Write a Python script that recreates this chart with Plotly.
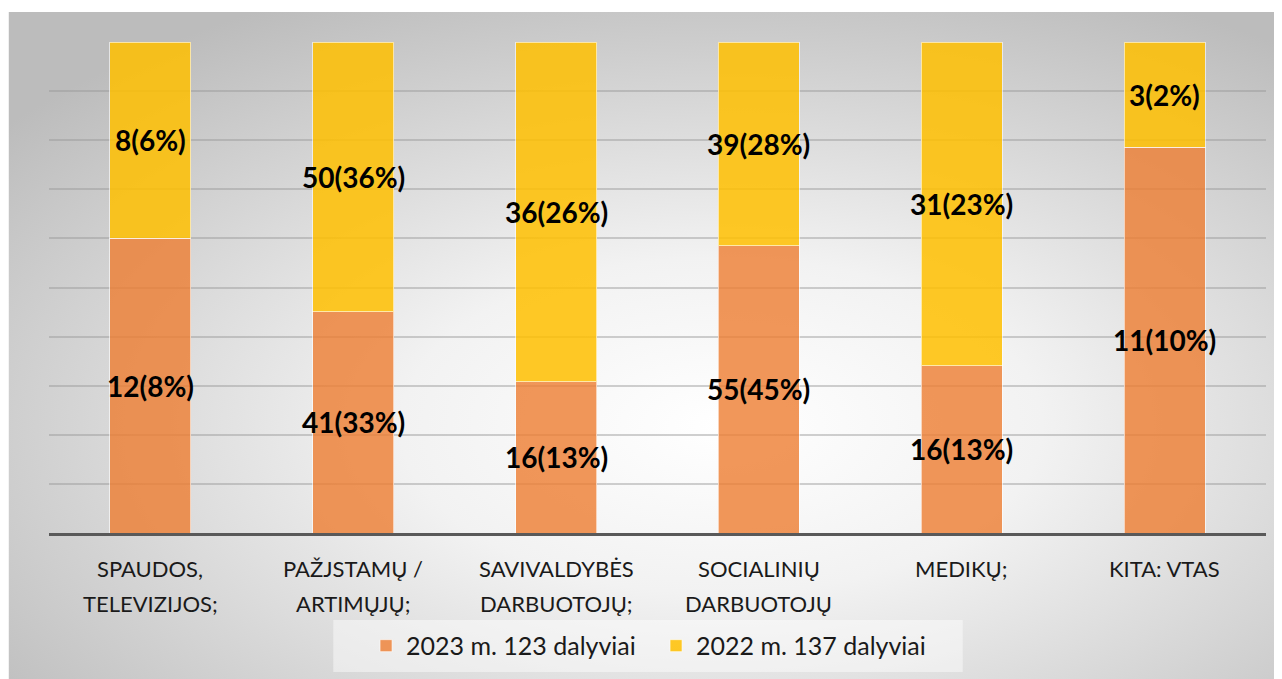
import base64
import plotly.graph_objects as go

categories = ["SPAUDOS, TELEVIZIJOS;", "PAŽJSTAMŲ / ARTIMŲJŲ;", "SAVIVALDYBĖS DARBUOTOJŲ;",
              "SOCIALINIŲ DARBUOTOJŲ", "MEDIKŲ;", "KITA: VTAS"]
cat_lines = [["SPAUDOS,", "TELEVIZIJOS;"], ["PAŽJSTAMŲ /", "ARTIMŲJŲ;"], ["SAVIVALDYBĖS", "DARBUOTOJŲ;"],
             ["SOCIALINIŲ", "DARBUOTOJŲ"], ["MEDIKŲ;"], ["KITA: VTAS"]]
counts_2023 = [12, 41, 16, 55, 16, 11]
pct_2023 = [8, 33, 13, 45, 13, 10]
counts_2022 = [8, 50, 36, 39, 31, 3]
pct_2022 = [6, 36, 26, 28, 23, 2]
series_names = ["2023 m. 123 dalyviai", "2022 m. 137 dalyviai"]

ORANGE = "rgba(237,125,49,0.8)"
YELLOW = "rgba(255,192,0,0.85)"
FONT = "Lato"

fig = go.Figure()
fig.add_trace(go.Bar(x=categories, y=counts_2023, name=series_names[0],
                     marker=dict(color=ORANGE, line=dict(color="rgba(255,255,255,0.6)", width=1))))
fig.add_trace(go.Bar(x=categories, y=counts_2022, name=series_names[1],
                     marker=dict(color=YELLOW, line=dict(color="rgba(255,255,255,0.6)", width=1))))

annotations = []
for c, a, pa, b, pb in zip(categories, counts_2023, pct_2023, counts_2022, pct_2022):
    tot = a + b
    sa = 100.0 * a / tot
    annotations.append(dict(x=c, y=sa / 2, text=f"<b>{a}({pa}%)</b>", showarrow=False,
                            font=dict(family=FONT, size=28, color="black")))
    annotations.append(dict(x=c, y=sa + (100 - sa) / 2, text=f"<b>{b}({pb}%)</b>", showarrow=False,
                            font=dict(family=FONT, size=28, color="black")))

line_y = [-0.0713, -0.1426]
for c, lines in zip(categories, cat_lines):
    for i, ln in enumerate(lines):
        annotations.append(dict(x=c, xref="x", y=line_y[i], yref="paper", text=ln, showarrow=False,
                                yanchor="middle", font=dict(family=FONT, size=22, color="#1a1a1a")))

svg = ('<svg xmlns="http://www.w3.org/2000/svg" width="1275" height="667" viewBox="0 0 1275 667" '
       'preserveAspectRatio="none"><defs><radialGradient id="g" cx="0.56" cy="0.62" r="0.72">'
       '<stop offset="0" stop-color="#ffffff"/><stop offset="0.35" stop-color="#f2f2f2"/>'
       '<stop offset="1" stop-color="#bcbcbc"/></radialGradient></defs>'
       '<rect x="0" y="0" width="1275" height="667" fill="url(#g)"/></svg>')
src = "data:image/svg+xml;base64," + base64.b64encode(svg.encode()).decode()

fig.update_layout(
    barmode="stack", barnorm="percent", bargap=0.6,
    width=1274, height=671,
    margin=dict(l=40.5, r=15.5, t=34, b=146, autoexpand=False),
    paper_bgcolor="white", plot_bgcolor="rgba(0,0,0,0)",
    font=dict(family=FONT, size=20, color="#1a1a1a"),
    showlegend=True,
    legend=dict(orientation="h", x=0.4988, xanchor="center", y=-0.23, yanchor="middle",
                bgcolor="rgba(0,0,0,0)", font=dict(family=FONT, size=25, color="#1a1a1a"),
                traceorder="normal", entrywidth=245),
    xaxis=dict(showticklabels=False, showgrid=False, showline=True, linecolor="#595959",
               linewidth=3, ticks="", zeroline=False),
    yaxis=dict(range=[0, 100], dtick=10, showticklabels=False, showgrid=True,
               gridcolor="rgba(150,150,150,0.45)", gridwidth=1.5, zeroline=False, ticks=""),
    annotations=annotations,
    shapes=[dict(type="rect", xref="paper", yref="paper", x0=0.2336, x1=0.7508, y0=-0.2831, y1=-0.1772,
                 fillcolor="rgba(255,255,255,0.45)", line=dict(width=0), layer="below")],
    images=[dict(source=src, xref="paper", yref="paper", x=-0.03325, y=1.0611,
                 sizex=1.046, sizey=1.3585, sizing="stretch", xanchor="left", yanchor="top",
                 layer="below")],
)

fig.write_html("out.html")
